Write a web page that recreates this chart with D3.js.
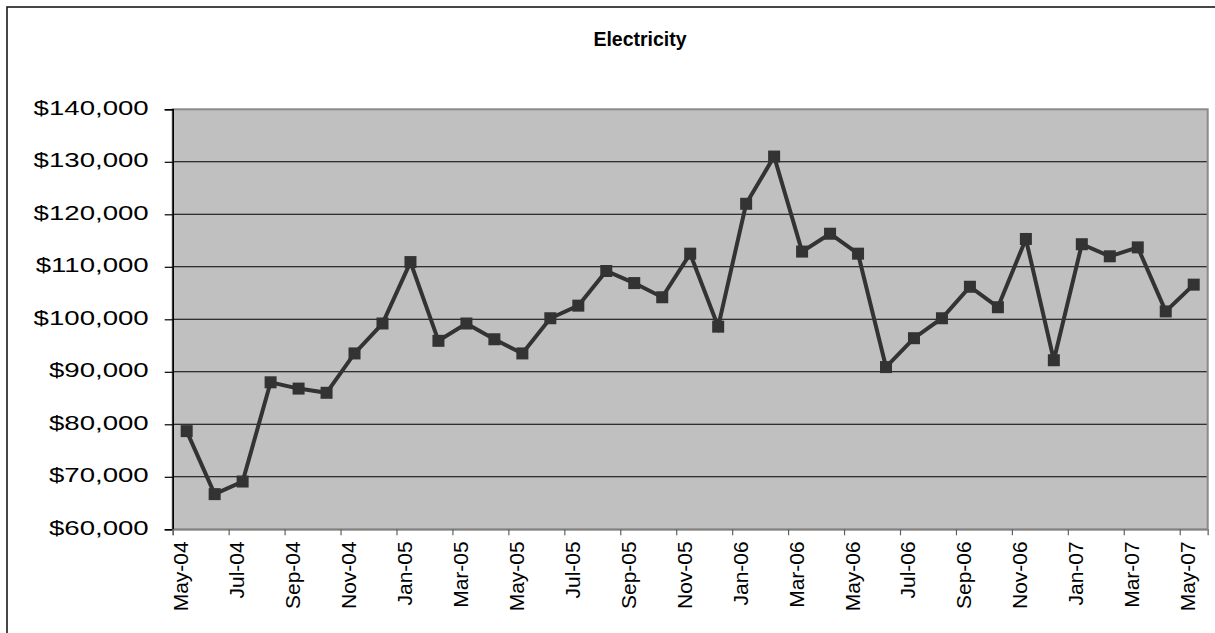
<!DOCTYPE html>
<html>
<head>
<meta charset="utf-8">
<script src="https://cdn.jsdelivr.net/npm/d3@7"></script>
<style>
  html, body { margin: 0; padding: 0; background: #fff; }
  svg { display: block; }
  text { font-family: "Liberation Sans", Arial, sans-serif; fill: #000; }
</style>
</head>
<body>
<svg id="chart" width="1215" height="633"></svg>
<script>
// Monthly electricity cost, May 2004 – May 2007
const months = [
  "May-04","Jun-04","Jul-04","Aug-04","Sep-04","Oct-04","Nov-04","Dec-04",
  "Jan-05","Feb-05","Mar-05","Apr-05","May-05","Jun-05","Jul-05","Aug-05",
  "Sep-05","Oct-05","Nov-05","Dec-05","Jan-06","Feb-06","Mar-06","Apr-06",
  "May-06","Jun-06","Jul-06","Aug-06","Sep-06","Oct-06","Nov-06","Dec-06",
  "Jan-07","Feb-07","Mar-07","Apr-07","May-07"
];
const cost = [
  78700, 66700, 69100, 88000, 86800, 86000, 93500, 99200,
  110900, 95900, 99200, 96200, 93500, 100200, 102600, 109200,
  106900, 104200, 112500, 98600, 122000, 131000, 112900, 116300,
  112500, 90900, 96400, 100200, 106200, 102300, 115300, 92200,
  114300, 112000, 113700, 101500, 106600
];
const yTicks = [60000, 70000, 80000, 90000, 100000, 110000, 120000, 130000, 140000];
const chartTitle = "Electricity";

const svg = d3.select("#chart");
const plot = { left: 172.7, right: 1207.7, top: 109.3, bottom: 529.3 };

// outer chart frame (runs off the right and bottom edges)
svg.append("rect")
  .attr("x", 7).attr("y", 7)
  .attr("width", 1240).attr("height", 660)
  .attr("fill", "#fff").attr("stroke", "#1a1a1a").attr("stroke-width", 1.6);

// category index scale: ticks at category boundaries, points at centres
const x = d3.scaleLinear().domain([0, months.length]).range([plot.left, plot.right]);
const y = d3.scaleLinear().domain([60000, 140000]).range([plot.bottom, plot.top]);

// plot area
svg.append("rect")
  .attr("x", plot.left).attr("y", plot.top)
  .attr("width", plot.right - plot.left).attr("height", plot.bottom - plot.top)
  .attr("fill", "#c0c0c0").attr("stroke", "#8a8a8a").attr("stroke-width", 2);

// horizontal gridlines
svg.append("g")
  .selectAll("line")
  .data(yTicks.slice(1, -1))
  .join("line")
  .attr("x1", plot.left).attr("x2", plot.right - 1)
  .attr("y1", d => y(d)).attr("y2", d => y(d))
  .attr("stroke", "#000").attr("stroke-width", 1.1);

// y axis
const fmt = d3.format(",");
const yAxis = svg.append("g")
  .attr("transform", `translate(${plot.left},0)`)
  .call(d3.axisLeft(y).tickValues(yTicks).tickSize(8).tickPadding(0).tickFormat(d => "$" + fmt(d)));
yAxis.select(".domain").attr("stroke", "#000").attr("stroke-width", 1.6);
yAxis.selectAll(".tick line").attr("stroke", "#000").attr("stroke-width", 1.2);
yAxis.selectAll(".tick text")
  .attr("font-size", 20)
  .attr("text-anchor", "end")
  .attr("x", 0).attr("dy", null)
  .attr("y", 0)
  .attr("transform", "translate(-24,5) scale(1.38,1)");

// x axis: labels on every other month
const xAxis = svg.append("g")
  .attr("transform", `translate(0,${plot.bottom})`)
  .call(d3.axisBottom(x)
    .tickValues(d3.range(0, months.length, 2))
    .tickSize(6).tickPadding(0)
    .tickFormat(i => months[i]));
xAxis.select(".domain").attr("stroke", "#808080").attr("stroke-width", 1.6);
xAxis.selectAll(".tick line").attr("stroke", "#606060").attr("stroke-width", 1.2);
xAxis.selectAll(".tick text")
  .attr("font-size", 21)
  .attr("text-anchor", "end")
  .attr("dy", null)
  .attr("x", 0).attr("y", 0)
  .attr("transform", "translate(15,12) rotate(-90)");

// series line and square markers
const pts = cost.map((v, i) => [x(i + 0.5), y(v)]);
svg.append("path")
  .attr("d", d3.line()(pts))
  .attr("fill", "none")
  .attr("stroke", "#333")
  .attr("stroke-width", 4)
  .attr("stroke-linejoin", "miter");

const m = 12;
svg.append("g")
  .selectAll("rect")
  .data(cost)
  .join("rect")
  .attr("x", (d, i) => x(i + 0.5) - m / 2)
  .attr("y", d => y(d) - m / 2)
  .attr("width", m).attr("height", m)
  .attr("fill", "#333");

// title
svg.append("text")
  .attr("x", 640).attr("y", 46)
  .attr("text-anchor", "middle")
  .attr("font-size", 19.5)
  .attr("font-weight", "bold")
  .text(chartTitle);
</script>
</body>
</html>
